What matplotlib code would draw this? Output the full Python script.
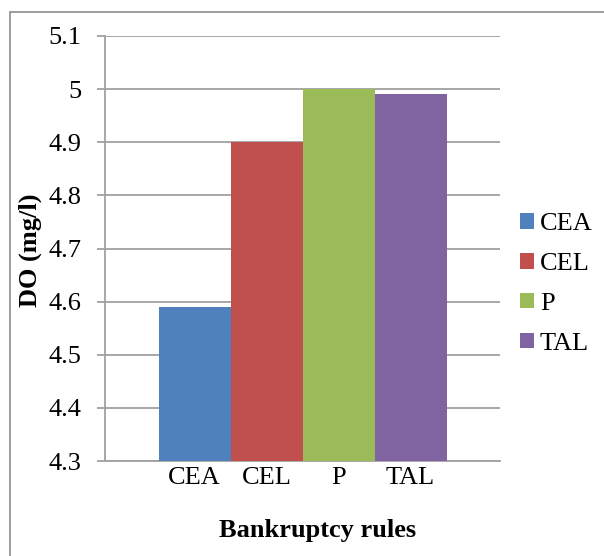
import matplotlib.pyplot as plt
import matplotlib.patches as mpatches

rules = ['CEA', 'CEL', 'P', 'TAL']
do_values = [4.59, 4.90, 5.00, 4.99]
colors = ['#4F81BD', '#C0504D', '#9BBB59', '#8064A2']
yticks = [4.3, 4.4, 4.5, 4.6, 4.7, 4.8, 4.9, 5.0, 5.1]
ytick_labels = ['4.3', '4.4', '4.5', '4.6', '4.7', '4.8', '4.9', '5', '5.1']

plt.rcParams['font.family'] = ['Liberation Serif', 'DejaVu Serif']
FS = 19
W, H = 604, 556

fig = plt.figure(figsize=(W / 100, H / 100), dpi=100)
ax = fig.add_axes([105 / W, 1 - 461 / H, 395 / W, 425 / H])

# outer chart border (only left/top visible, rest cropped)
fig.patches.append(mpatches.Rectangle((10 / W, -0.1), 1.2, 1 - 12 / H + 0.1,
                                      transform=fig.transFigure, fill=False,
                                      edgecolor='#8c8c8c', linewidth=1.2))

x = list(range(len(rules)))
bars = []
for i in x:
    b = ax.bar(i, do_values[i] - 4.3, bottom=4.3, width=1.0, color=colors[i],
               label=rules[i], zorder=3)
    bars.append(b)

gap = (395 / 72 - 4) / 2
ax.set_xlim(-0.5 - gap, 3.5 + gap)
ax.set_ylim(4.3, 5.1)
ax.set_yticks(yticks)
ax.set_yticklabels(ytick_labels, fontsize=FS)
ax.set_xticks(x)
ax.set_xticklabels(rules, fontsize=FS)
ax.yaxis.grid(True, color='#a0a0a0', linewidth=1.3, zorder=0)
ax.set_axisbelow(True)
for s in ['top', 'right']:
    ax.spines[s].set_visible(False)
for s in ['left', 'bottom']:
    ax.spines[s].set_color('#a0a0a0')
    ax.spines[s].set_linewidth(1.3)
ax.tick_params(axis='y', length=5.8, width=1.3, color='#a0a0a0', pad=11)
ax.tick_params(axis='x', length=0, pad=4)

fig.text(30 / W, 1 - 250 / H, 'DO (mg/l)', rotation=90, fontsize=FS,
         fontweight='bold', ha='center', va='center')
fig.text(318 / W, 1 - 530 / H, 'Bankruptcy rules', fontsize=FS,
         fontweight='bold', ha='center', va='center')

fig.legend(handles=[b for b in bars], labels=rules, loc='center left',
           bbox_to_anchor=(520 / W, 1 - 284 / H), bbox_transform=fig.transFigure,
           frameon=False, fontsize=FS, handlelength=0.53, handleheight=0.53,
           handletextpad=0.22, labelspacing=0.67, borderpad=0, borderaxespad=0)

fig.savefig('out.png', dpi=100)
